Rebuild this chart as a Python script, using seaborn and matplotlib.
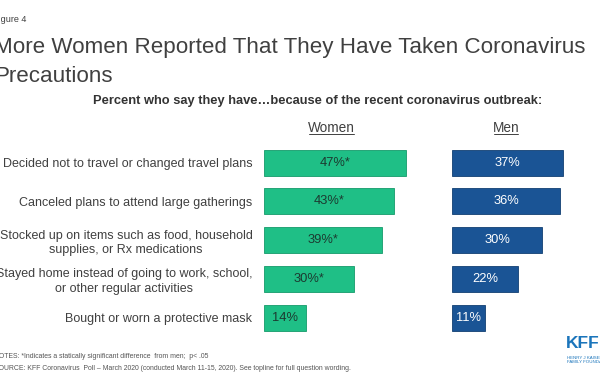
import pandas as pd
import matplotlib
matplotlib.use("Agg")
import matplotlib.pyplot as plt
import seaborn as sns

categories = [
    "Decided not to travel or changed travel plans",
    "Canceled plans to attend large gatherings",
    "Stocked up on items such as food, household\nsupplies, or Rx medications",
    "Stayed home instead of going to work, school,\nor other regular activities",
    "Bought or worn a protective mask",
]
women = [47, 43, 39, 30, 14]
men = [37, 36, 30, 22, 11]
women_signif = [True, True, True, True, False]

GREEN = "#1fbf86"
BLUE = "#1a5495"
GRAY = "#404040"

sns.set_theme(style="white")
plt.rcParams["font.family"] = ["Liberation Sans", "DejaVu Sans"]

df = pd.DataFrame({"cat": categories, "Women": women, "Men": men})

W, H = 600, 380
fig = plt.figure(figsize=(6, 3.8), dpi=100)
fig.patch.set_facecolor("white")

def px_axes(left, top, width, height):
    return fig.add_axes([left / W, 1 - (top + height) / H, width / W, height / H])

row_top, row_h = 143.4, 193.5
ax1 = px_axes(263.5, row_top, 50 * 3.03, row_h)
ax2 = px_axes(452.3, row_top, 40 * 3.0, row_h)

sns.barplot(data=df, x="Women", y="cat", color=GREEN, width=0.67, ax=ax1,
            saturation=1, edgecolor="#159a6a", linewidth=0.6)
sns.barplot(data=df, x="Men", y="cat", color=BLUE, width=0.67, ax=ax2,
            saturation=1, edgecolor="#123f72", linewidth=0.6)

ax1.set_xlim(0, 50)
ax2.set_xlim(0, 40)
for ax in (ax1, ax2):
    ax.set_ylim(4.5, -0.5)
    ax.set_xlabel("")
    ax.set_ylabel("")
    ax.set_xticks([])
    sns.despine(ax=ax, left=True, bottom=True)

ax1.tick_params(axis="y", length=0, pad=8)
for lbl in ax1.get_yticklabels():
    lbl.set_fontsize(9.0)
    lbl.set_color(GRAY)
    lbl.set_multialignment("center")
    lbl.set_linespacing(1.3)
ax2.set_yticks([])

w_labels = [f"{v}%*" if s else f"{v}%" for v, s in zip(women, women_signif)]
ax1.bar_label(ax1.containers[0], labels=w_labels, label_type="center",
              fontsize=9.3, color="#1c3a30")
ax2.bar_label(ax2.containers[0], labels=[f"{v}%" for v in men],
              label_type="center", fontsize=9.3, color="white")

# column headers, underlined
fig.text(331.5 / W, 1 - 128 / H, "Women", ha="center", va="center",
         fontsize=9.8, color=GRAY)
fig.add_artist(plt.Line2D([309 / W, 354 / W], [1 - 134.5 / H] * 2, color=GRAY, lw=0.7))
fig.text(506 / W, 1 - 128 / H, "Men", ha="center", va="center",
         fontsize=9.8, color=GRAY)
fig.add_artist(plt.Line2D([494 / W, 518 / W], [1 - 134.5 / H] * 2, color=GRAY, lw=0.7))

# titles
fig.text(-7 / W, 1 - 20 / H, "Figure 4", ha="left", va="center",
         fontsize=6.5, color=GRAY)
fig.text(-6 / W, 1 - 48 / H, "More Women Reported That They Have Taken Coronavirus",
         ha="left", va="center", fontsize=16.1, color=GRAY)
fig.text(-6 / W, 1 - 76 / H, "Precautions",
         ha="left", va="center", fontsize=16.1, color=GRAY)
fig.text(318 / W, 1 - 101 / H,
         "Percent who say they have\u2026because of the recent coronavirus outbreak:",
         ha="center", va="center", fontsize=9.3, color="#333333", fontweight="bold")

# notes
fig.text(-6 / W, 1 - 356 / H,
         "NOTES: *Indicates a statically significant difference  from men;  p< .05",
         ha="left", va="center", fontsize=4.95, color="#555555")
fig.text(-6 / W, 1 - 368 / H,
         "SOURCE: KFF Coronavirus  Poll \u2013 March 2020 (conducted March 11-15, 2020). "
         "See topline for full question wording.",
         ha="left", va="center", fontsize=4.95, color="#555555")

# logo
fig.text(566 / W, 1 - 343 / H, "KFF", ha="left", va="center", fontsize=12.5,
         fontweight="bold", color="#1b75bb")
fig.text(567 / W, 1 - 360 / H, "HENRY J KAISER\nFAMILY FOUNDATION", ha="left",
         va="center", fontsize=3.2, color="#1b75bb", linespacing=1.2)

fig.savefig("out.png", dpi=100, facecolor="white")
